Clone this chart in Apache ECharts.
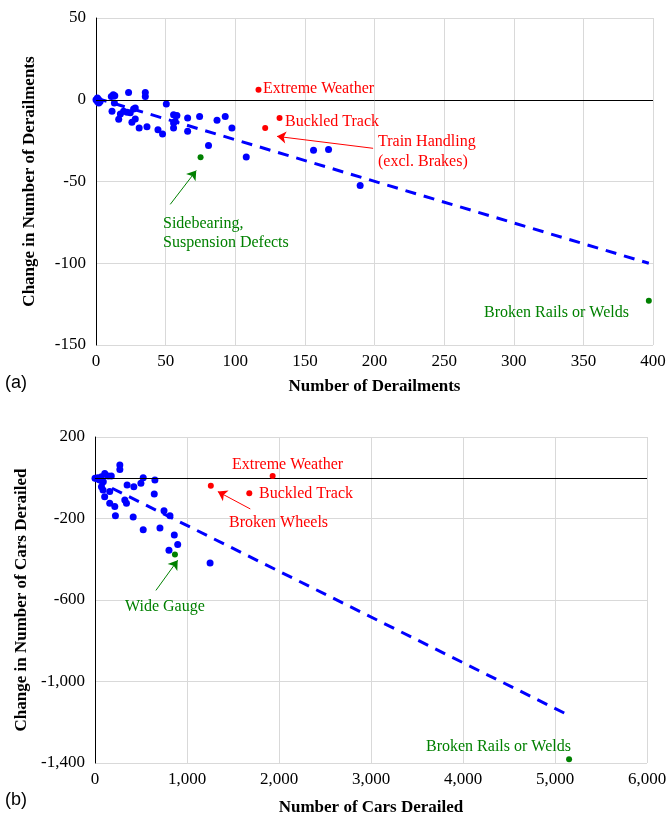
<!DOCTYPE html>
<html><head><meta charset="utf-8">
<script src="https://cdn.jsdelivr.net/npm/echarts@6/dist/echarts.min.js"></script>
<style>html,body{margin:0;padding:0;background:#fff}#c{width:670px;height:825px}</style>
</head><body><div id="c"></div>
<script>
// ---- Panel (a): derailments ----
const aBlue = [[0,0],[1,-1],[2,-2],[1,1],[3,-1],[2,0],[12.4,3],[13.5,2.5],[11,2],[23.4,4.5],[35.4,4.5],[35.4,2],
 [13.2,-2],[11.5,-7],[16.3,-12],[17.5,-8.7],[19.8,-7],[22.3,-7.7],[24.6,-8],[27,-5.7],[28.2,-5],[25.8,-13.8],
 [28.2,-11.8],[31,-17.3],[36.6,-16.5],[44.5,-18.3],[47.8,-21],[50.5,-2.6],[55.7,-9.1],[58.1,-9.6],[56.9,-13.2],
 [55.7,-14.2],[55.7,-17.3],[65.8,-11.2],[65.8,-19.3],[74.4,-10.2],[80.8,-28],[86.9,-12.6],[92.8,-10.2],
 [97.6,-17.3],[107.9,-35],[156.2,-30.9],[167,-30.5],[189.7,-52.4]];
const aRed = [[116.7,6.1],[131.8,-11.2],[121.5,-17.3]];          // Extreme Weather, Buckled Track, Train Handling
const aGreen = [[75.1,-35.2],[397,-123]];                        // Sidebearing, Broken Rails
const aTrend = [[0,1],[397,-100]];
const aXRange = [0,400,50];
const aYRange = [-150,50,50];
const aArrows = [
  {from:[199,-29.7], to:[130,-22.4], color:'#ff0000'},
  {from:[53.3,-64], to:[72,-43.3], color:'#008000'}
];
// ---- Panel (b): cars derailed ----
const bBlue = [[0,-3],[30,0],[50,-10],[70,5],[90,-20],[106,21],[143,8],[177,8],[70,-44],[87,-60],[160,-68],
 [105,-93],[160,-125],[215,-141],[222,-187],[270,62],[270,41],[324,-109],[342,-125],[349,-36],[422,-44],
 [499,-27],[524,0],[651,-11],[644,-80],[415,-193],[524,-255],[706,-247],[750,-162],[815,-187],[862,-281],
 [899,-328],[804,-356],[1251,-418]];
const bRed = [[1931,8],[1677,-76],[1259,-39]];                   // Extreme Weather, Buckled Track, Broken Wheels
const bGreen = [[869,-377],[5153,-1382]];                        // Wide Gauge, Broken Rails
const bTrend = [[0,-10],[5142,-1164]];
const bXRange = [0,6000,1000];
const bYRange = [-1400,200,400];
const bArrows = [
  {from:[1688,-153], to:[1335,-68], color:'#ff0000'},
  {from:[662,-553], to:[899,-405], color:'#008000'}
];

const SERIF = '"Liberation Serif","Times New Roman",serif';
const BLUE='#0000ff', RED='#ff0000', GREEN='#008000', GRID='#d9d9d9';

function fmt(v){ return Number(v).toLocaleString('en-US'); }

function xAxis(idx, r, name, gap, f){
  return {type:'value', gridIndex:idx, min:r[0], max:r[1], interval:r[2],
    name:name, nameLocation:'middle', nameGap:gap,
    nameTextStyle:{fontFamily:SERIF, fontSize:17, fontWeight:'bold', color:'#000'},
    axisLine:{show:true, lineStyle:{color:GRID}}, axisTick:{show:false},
    axisLabel:{fontFamily:SERIF, fontSize:17, color:'#000', margin:8, formatter:f},
    splitLine:{show:true, lineStyle:{color:GRID}}};
}
function yAxis(idx, r, name, gap, f){
  return {type:'value', gridIndex:idx, min:r[0], max:r[1], interval:r[2],
    name:name, nameLocation:'middle', nameGap:gap,
    nameTextStyle:{fontFamily:SERIF, fontSize:17, fontWeight:'bold', color:'#000'},
    axisLine:{show:true, onZero:false, lineStyle:{color:'#000'}}, axisTick:{show:false},
    axisLabel:{fontFamily:SERIF, fontSize:17, color:'#000', margin:10, formatter:f},
    splitLine:{show:true, lineStyle:{color:GRID}}};
}
function arrowLines(list, xi){
  return list.map(a=>({type:'line', xAxisIndex:xi, yAxisIndex:xi, data:[], silent:true,
    markLine:{silent:true, symbol:['none','arrow'], symbolSize:9, animation:false, label:{show:false},
      lineStyle:{color:a.color, width:1, type:'solid'},
      data:[[{coord:a.from},{coord:a.to}]]}}));
}
function scatter(data, xi, color, size, z){
  return {type:'scatter', xAxisIndex:xi, yAxisIndex:xi, data:data, symbolSize:size,
    itemStyle:{color:color, opacity:1}, z:z, silent:true};
}

const option = {
  animation:false,
  grid:[{left:96, top:18, width:557, height:327},{left:95, top:437, width:552, height:326}],
  xAxis:[xAxis(0,aXRange,'Number of Derailments',33,fmt), xAxis(1,bXRange,'Number of Cars Derailed',36,fmt)],
  yAxis:[yAxis(0,aYRange,'Change in Number of Derailments',58,fmt), yAxis(1,bYRange,'Change in Number of Cars Derailed',60,fmt)],
  series:[
    {type:'line', xAxisIndex:0, yAxisIndex:0, data:aTrend, symbol:'none', silent:true, z:3,
      lineStyle:{color:BLUE, width:3, type:[11,8]},
      markLine:{silent:true, symbol:'none', label:{show:false}, lineStyle:{color:'#000', width:1, type:'solid'}, data:[{yAxis:0}]}},
    scatter(aBlue,0,BLUE,7,4), scatter(aRed,0,RED,6,5), scatter(aGreen,0,GREEN,6,5),
    {type:'line', xAxisIndex:1, yAxisIndex:1, data:bTrend, symbol:'none', silent:true, z:3,
      lineStyle:{color:BLUE, width:3, type:[11,8]},
      markLine:{silent:true, symbol:'none', label:{show:false}, lineStyle:{color:'#000', width:1, type:'solid'}, data:[{yAxis:0}]}},
    scatter(bBlue,1,BLUE,7,4), scatter(bRed,1,RED,6,5), scatter(bGreen,1,GREEN,6,5)
  ].concat(arrowLines(aArrows,0)).concat(arrowLines(bArrows,1))
};

const chart = echarts.init(document.getElementById('c'), null, {renderer:'canvas'});
chart.setOption(option);

function t(text, x, y, color, opts){
  return Object.assign({type:'text', x:x, y:y, silent:true,
    style:{text:text, fill:color, font:'16px '+SERIF, textAlign:'left', textVerticalAlign:'middle'}}, opts||{});
}
const texts = [
  t('Extreme Weather',263,89,RED), t('Buckled Track',285,121.5,RED),
  t('Train Handling',378,142,RED), t('(excl. Brakes)',378,162,RED),
  t('Sidebearing,',163,224,GREEN), t('Suspension Defects',163,243,GREEN),
  t('Broken Rails or Welds',484,313,GREEN),
  t('Extreme Weather',232,465,RED), t('Buckled Track',259,494,RED), t('Broken Wheels',229,522.5,RED),
  t('Wide Gauge',125,607,GREEN), t('Broken Rails or Welds',426,747,GREEN),
  {type:'text', x:5, y:383, silent:true, style:{text:'(a)', fill:'#000', font:'18px "Liberation Sans",Arial,sans-serif', textVerticalAlign:'middle'}},
  {type:'text', x:5, y:800, silent:true, style:{text:'(b)', fill:'#000', font:'18px "Liberation Sans",Arial,sans-serif', textVerticalAlign:'middle'}}
];
chart.setOption({graphic:texts});
</script></body></html>
